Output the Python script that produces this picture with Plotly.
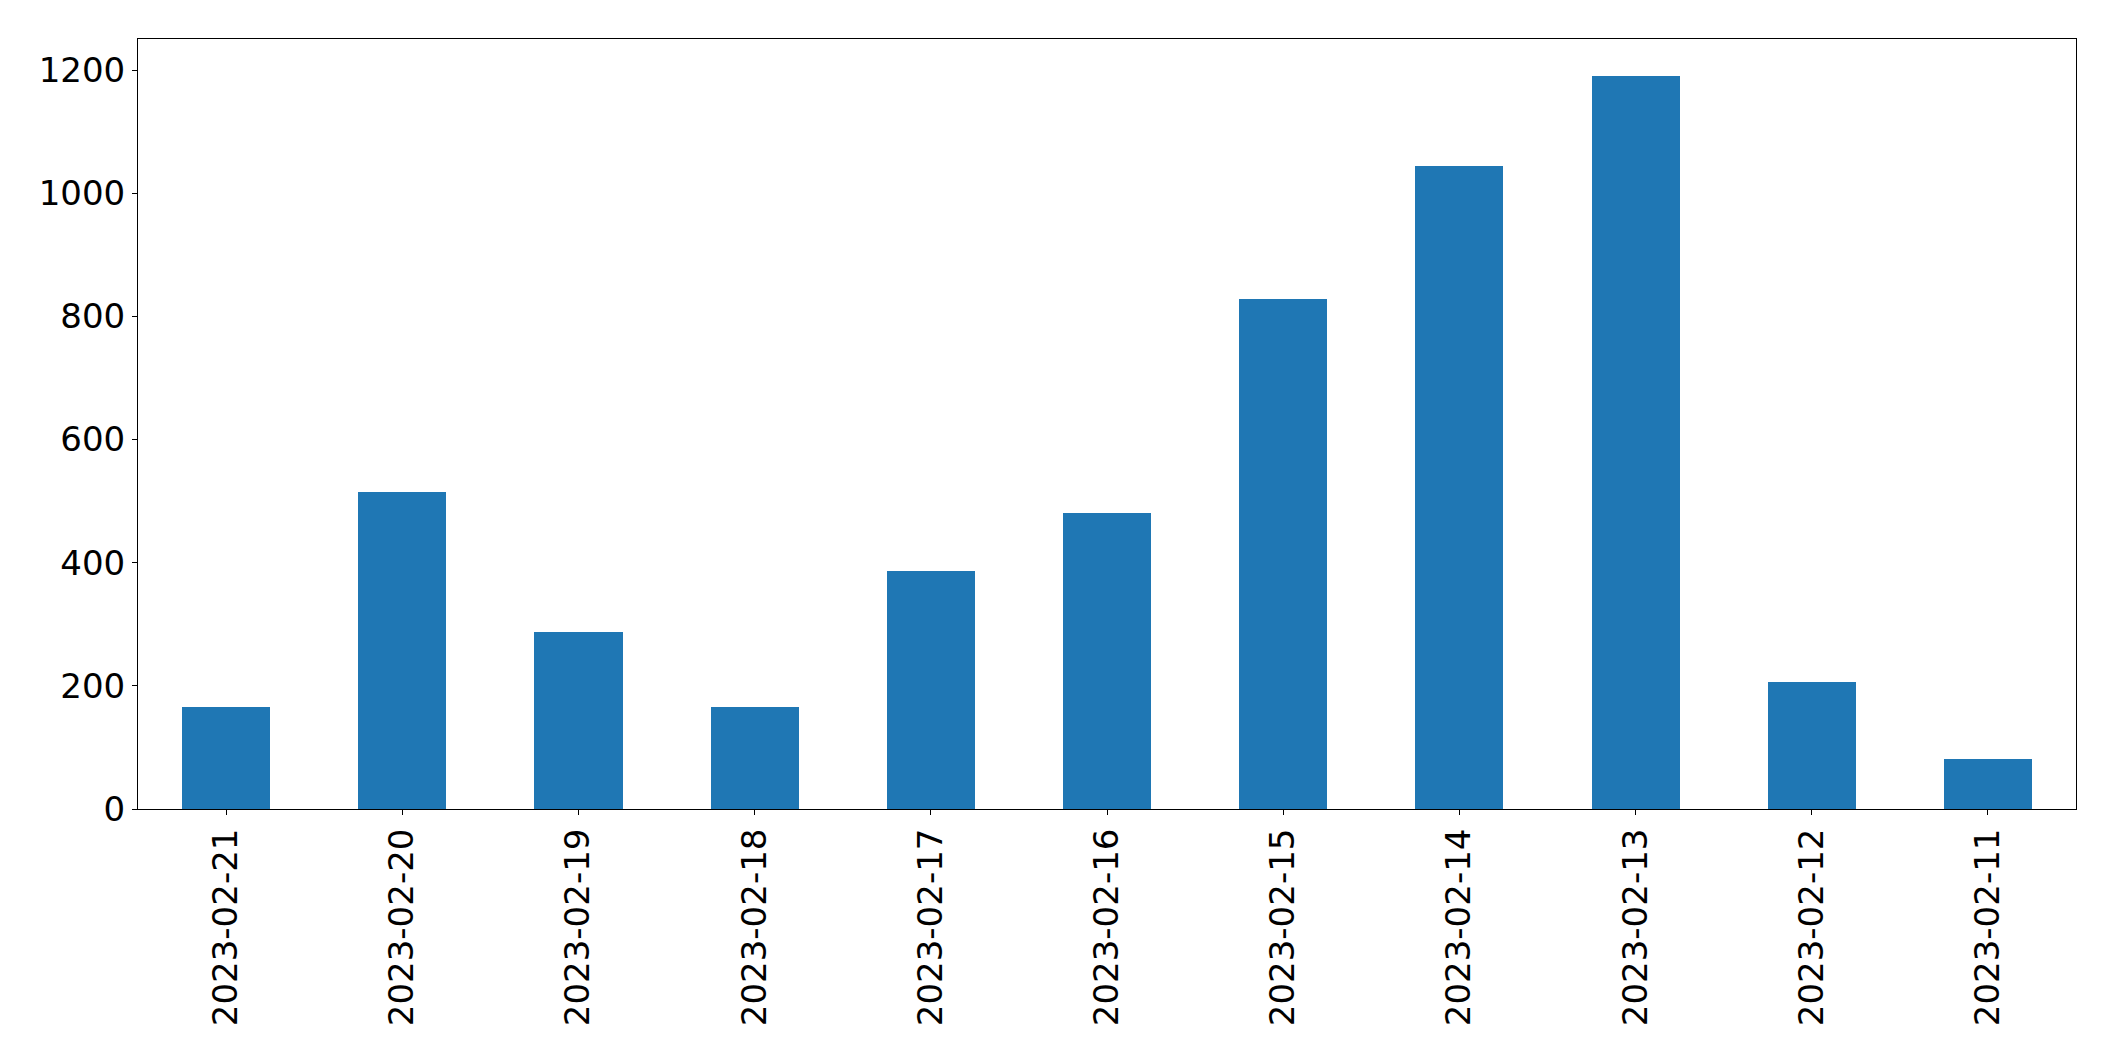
import plotly.graph_objects as go

dates = ["2023-02-21", "2023-02-20", "2023-02-19", "2023-02-18", "2023-02-17",
         "2023-02-16", "2023-02-15", "2023-02-14", "2023-02-13", "2023-02-12",
         "2023-02-11"]
counts = [165, 515, 287, 166, 386, 481, 828, 1044, 1191, 206, 81]
y_ticks = [0, 200, 400, 600, 800, 1000, 1200]

fig = go.Figure()
fig.add_trace(go.Bar(
    x=list(range(len(dates))), y=counts, width=0.5,
    marker=dict(color="#1f77b4", line=dict(width=0)),
))

font = dict(family="DejaVu Sans", size=34, color="black")
fig.update_layout(
    width=2115, height=1061,
    margin=dict(l=138, r=39, t=39, b=252, pad=0),
    paper_bgcolor="white", plot_bgcolor="white",
    showlegend=False, bargap=0,
    font=font,
)
fig.update_xaxes(
    range=[-0.5, len(dates) - 0.5],
    tickmode="array", tickvals=list(range(len(dates))), ticktext=dates,
    tickangle=-90, ticks="outside", ticklen=5, tickwidth=1, tickcolor="black",
    showline=True, linecolor="black", linewidth=1, mirror=True,
    showgrid=False, zeroline=False, tickfont=font,
)
fig.update_yaxes(
    range=[0, max(counts) * 1.05],
    tickmode="array", tickvals=y_ticks, ticktext=[str(v) for v in y_ticks],
    ticks="outside", ticklen=5, tickwidth=1, tickcolor="black",
    showline=True, linecolor="black", linewidth=1, mirror=True,
    showgrid=False, zeroline=False, tickfont=font,
)
fig.write_html("out.html")
